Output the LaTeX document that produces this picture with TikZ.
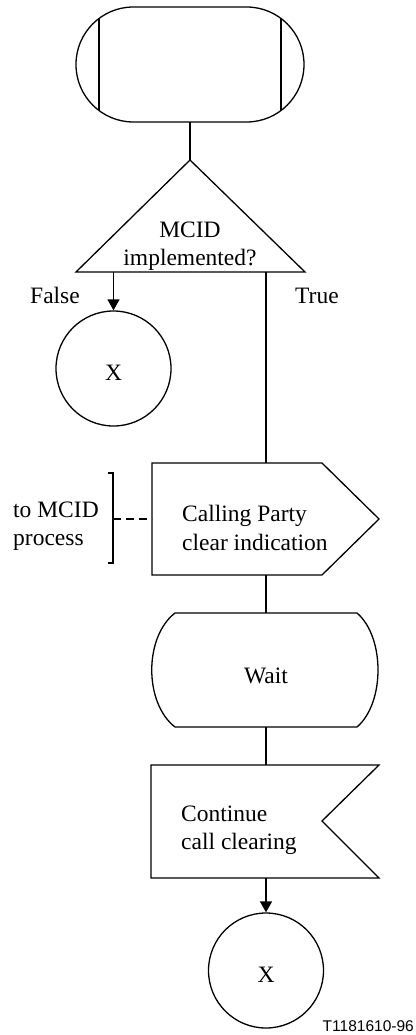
\documentclass[tikz,border=0pt]{standalone}
\usepackage{fontspec}
\setmainfont{Liberation Serif}
\newfontfamily\labelsans{Liberation Sans}
\usetikzlibrary{arrows.meta}
\begin{document}
\begin{tikzpicture}[x=1pt,y=-1pt,
  shp/.style={line width=1.3pt, line join=miter},
  conn/.style={line width=1.3pt},
  arr/.style={conn,-{Triangle[width=12pt,length=11pt]}},
  txt/.style={inner sep=0pt, font=\fontsize{23.5}{28.5}\selectfont},
  termcirc/.style={draw, shp, circle, minimum size=115pt, inner sep=0pt,
    font=\fontsize{23.5}{28.5}\selectfont, text height=23pt, text depth=0pt},
]
\useasboundingbox (0,0) rectangle (415,1035);

% start symbol
\draw[shp, rounded corners=57.4pt] (76,7) rectangle (304,122);
\draw[line width=1.7pt] (99,18.5) -- (99,110.5) (281,18.5) -- (281,110.5);
\coordinate (start) at (190,122);

% decision
\draw[shp] (190,160) -- (305,272) -- (76,272) -- cycle;
\coordinate (dectop) at (190,160);
\coordinate (decf) at (113.5,272);
\coordinate (dect) at (266,272);
\node[txt, align=center] (dectext) at (190,246) {MCID\\implemented?};
\node[txt, anchor=base west] (falselbl) at (30,303) {False};
\node[txt, anchor=base west] (truelbl) at (295,303) {True};

% false terminator
\node[termcirc] (xf) at (113.5,368.5) {X};

% output signal
\draw[shp] (152,463) -- (322,463) -- (379,519) -- (322,575) -- (152,575) -- cycle;
\coordinate (outn) at (266,463);
\coordinate (outs) at (266,575);
\coordinate (outw) at (152,519);
\node[txt, align=left, anchor=west] (outtext) at (182,528) {Calling Party\\clear indication};

% bracket + comment
\draw[line width=1.6pt] (108,473) -- (113,473) -- (113,563) -- (108,563);
\coordinate (br) at (113,519);
\draw[conn, dash pattern=on 8pt off 5pt] (br) -- (outw);
\node[txt, align=left, anchor=west] (mcidtext) at (13,526) {to MCID\\process};

% wait state
\draw[shp] (175,613) -- (357,613) .. controls (385,637) and (385,703) .. (357,727)
  -- (175,727) .. controls (144,703) and (144,637) .. (175,613) -- cycle;
\coordinate (waitn) at (266,613);
\coordinate (waits) at (266,727);
\node[txt, anchor=base] (waittext) at (266,683) {Wait};

% input signal
\draw[shp] (151,765) -- (379,765) -- (322,821) -- (379,878) -- (151,878) -- cycle;
\coordinate (inn) at (266,765);
\coordinate (ins) at (266,878);
\node[txt, align=left, anchor=west] (intext) at (181,830) {Continue\\call clearing};

% bottom terminator
\node[termcirc] (xb) at (266,970.5) {X};

% connectors
\draw[conn] (start) -- (dectop);
\draw[arr] (decf) -- (xf.north);
\draw[conn] (dect) -- (outn);
\draw[conn] (outs) -- (waitn);
\draw[conn] (waits) -- (inn);
\draw[arr] (ins) -- (xb.north);

\node[inner sep=0pt, anchor=base east, font=\labelsans\fontsize{15.5}{18}\selectfont] (fig) at (414,1031) {T1181610-96};
\end{tikzpicture}
\end{document}
